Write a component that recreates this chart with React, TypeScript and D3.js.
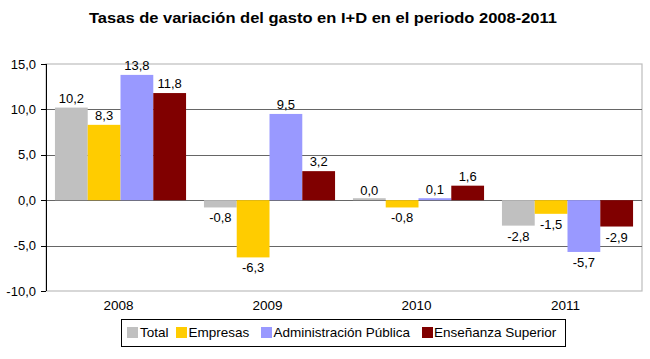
import React from "react";
import * as d3 from "d3";

const categories = ["2008", "2009", "2010", "2011"];
const seriesNames = ["Total", "Empresas", "Administración Pública", "Enseñanza Superior"];
const seriesColors = ["#C0C0C0", "#FFCC00", "#9999FF", "#800000"];
const total = [10.2, -0.8, 0.0, -2.8];
const empresas = [8.3, -6.3, -0.8, -1.5];
const administracion = [13.8, 9.5, 0.1, -5.7];
const ensenanza = [11.8, 3.2, 1.6, -2.9];
const yTicks = [15, 10, 5, 0, -5, -10];

const W = 650, H = 359;
const left = 46, right = 642, top = 64, bottom = 291;
const font = "'Liberation Sans', Arial, sans-serif";

export default function App() {
  const series = [total, empresas, administracion, ensenanza];
  const x = d3.scaleBand<string>().domain(categories).range([left, right]).paddingInner(0.12).paddingOuter(0.06);
  const inner = d3.scaleBand<number>().domain([0, 1, 2, 3]).range([0, x.bandwidth()]);
  const y = d3.scaleLinear().domain([-10, 15]).range([bottom, top]);
  const fmt = (v: number) => v.toFixed(1).replace(".", ",");

  const legendItems = [
    { sq: 127, tx: 140 },
    { sq: 176, tx: 188.5 },
    { sq: 261, tx: 273.5 },
    { sq: 422, tx: 434 },
  ];

  return (
    <svg width={W} height={H} style={{ position: "absolute", left: 0, top: 0, background: "#fff" }} fontFamily={font}>
      <text x={89} y={23} fontSize={15.5} fontWeight="bold" fill="#000" textLength={468} lengthAdjust="spacingAndGlyphs">
        Tasas de variación del gasto en I+D en el periodo 2008-2011
      </text>
      {/* plot border */}
      <rect x={left} y={top} width={right - left} height={bottom - top} fill="none" stroke="#BDBDBD" strokeWidth={1.2} />
      {yTicks.filter(t => t !== 15 && t !== -10).map(t => (
        <line key={t} x1={left} x2={right} y1={Math.round(y(t)) + 0.5} y2={Math.round(y(t)) + 0.5} stroke="#666" strokeWidth={1.2} />
      ))}
      {/* bars */}
      {series.map((vals, si) =>
        vals.map((v, ci) => {
          const bx = (x(categories[ci]) as number) + (inner(si) as number);
          const y0 = y(0), y1 = y(v);
          const d = Math.abs(y1 - y0);
          const h = Math.max(d, 2);
          const by = v >= 0 ? y1 - (d < 2 ? 2 - d : 0) : y0;
          return <rect key={si + "-" + ci} x={bx} y={by} width={inner.bandwidth()} height={h} fill={seriesColors[si]} />;
        })
      )}
      {/* labels */}
      {series.map((vals, si) =>
        vals.map((v, ci) => {
          const cx = (x(categories[ci]) as number) + (inner(si) as number) + inner.bandwidth() / 2;
          const ly = v >= 0 ? y(v) - 5 : y(v) + 15;
          return (
            <text key={"l" + si + "-" + ci} x={cx} y={ly} textAnchor="middle" fontSize={13} fill="#000">
              {fmt(v)}
            </text>
          );
        })
      )}
      {/* y axis */}
      <line x1={left + 0.5} x2={left + 0.5} y1={top} y2={bottom} stroke="#000" strokeWidth={1} />
      {yTicks.map(t => (
        <g key={"t" + t}>
          <line x1={left - 5} x2={left} y1={Math.round(y(t)) + 0.5} y2={Math.round(y(t)) + 0.5} stroke="#000" />
          <text x={36} y={y(t) + 4.5} textAnchor="end" fontSize={13} fill="#000">{fmt(t)}</text>
        </g>
      ))}
      {/* x labels */}
      {categories.map(c => (
        <text key={c} x={(x(c) as number) + x.bandwidth() / 2 - 2} y={309.5} textAnchor="middle" fontSize={13.5} fill="#000">{c}</text>
      ))}
      {/* legend */}
      <rect x={121.5} y={319.5} width={444} height={27} fill="#fff" stroke="#000" strokeWidth={1} />
      {seriesNames.map((n, i) => (
        <g key={n}>
          <rect x={legendItems[i].sq} y={327} width={11} height={11} fill={seriesColors[i]} />
          <text x={legendItems[i].tx} y={337} fontSize={13.5} fill="#000">{n}</text>
        </g>
      ))}
    </svg>
  );
}
